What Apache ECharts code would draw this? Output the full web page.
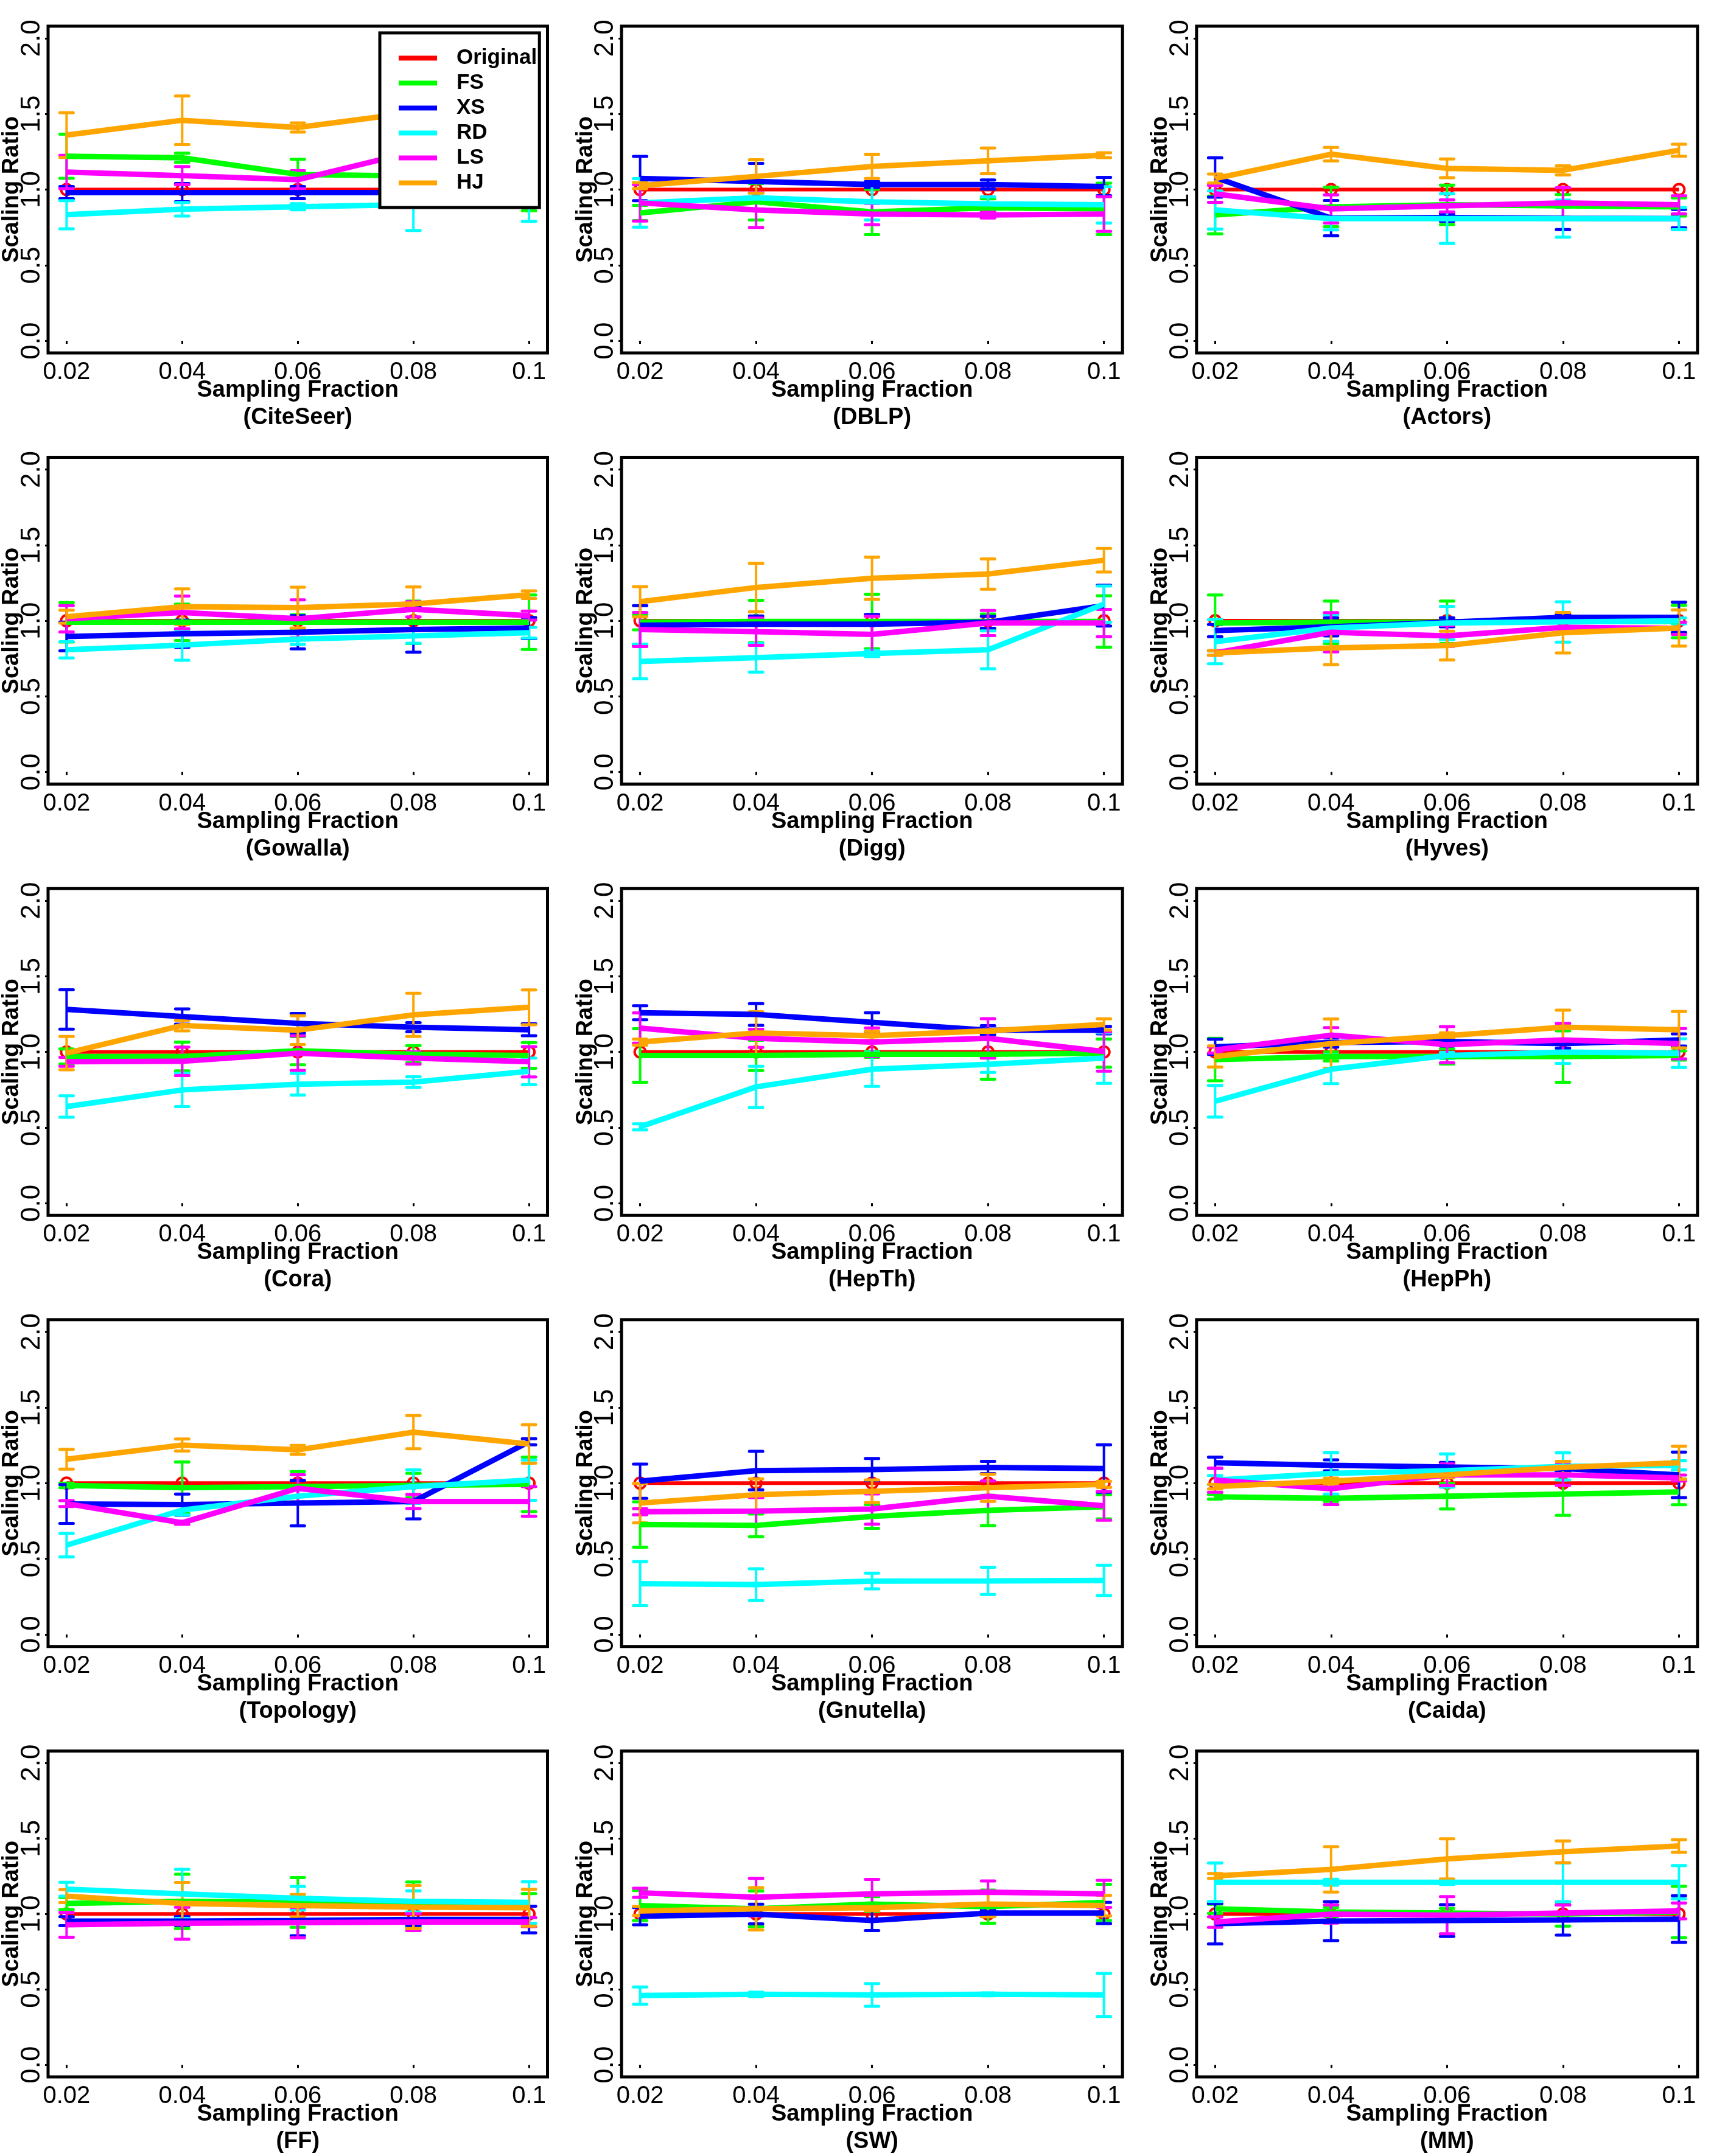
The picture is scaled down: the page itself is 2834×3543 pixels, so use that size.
<!DOCTYPE html>
<html>
<head>
<meta charset="utf-8">
<script src="https://cdn.jsdelivr.net/npm/echarts@6/dist/echarts.min.js"></script>
<style>
  html, body { margin: 0; padding: 0; background: #fff; }
  #chart { width: 2834px; height: 3543px; }
</style>
</head>
<body>
<div id="chart"></div>
<script>
// ---------------- DATA ----------------
const DATASETS = ['CiteSeer','DBLP','Actors','Gowalla','Digg','Hyves','Cora','HepTh','HepPh','Topology','Gnutella','Caida','FF','SW','MM'];
const FRACTIONS = [0.02, 0.04, 0.06, 0.08, 0.1];
const X_TICK_LABELS = ['0.02','0.04','0.06','0.08','0.1'];
const Y_TICKS = [0, 0.5, 1, 1.5, 2];
const Y_TICK_LABELS = ['0.0','0.5','1.0','1.5','2.0'];
const METHODS = ['Original','FS','XS','RD','LS','HJ'];
const ORIGINAL = [1, 1, 1, 1, 1];

// mean values per dataset (rows in DATASETS order)
const FS_MEAN = [
  [1.22,1.21,1.10,1.09,1.06],
  [0.845,0.919,0.852,0.879,0.872],
  [0.832,0.885,0.899,0.892,0.885],
  [0.99,0.99,0.99,0.99,0.99],
  [0.99,0.995,0.995,0.995,0.995],
  [0.985,0.99,0.99,0.995,0.995],
  [0.97,0.97,1.008,0.985,0.977],
  [0.977,0.977,0.985,0.985,0.992],
  [0.95,0.97,0.97,0.97,0.977],
  [0.985,0.97,0.977,0.985,0.992],
  [0.727,0.721,0.78,0.82,0.844],
  [0.91,0.9,0.914,0.928,0.942],
  [1.069,1.083,1.076,1.062,1.055],
  [1.055,1.034,1.065,1.048,1.076],
  [1.034,1.013,1.006,0.999,1.013]
];
const FS_ERR = [
  [0.146,0.03,0.1,0.05,0.2],
  [0.05,0.12,0.15,0.06,0.17],
  [0.125,0.13,0.13,0.075,0.06],
  [0.13,0.12,0.05,0.14,0.18],
  [0.05,0.14,0.18,0.05,0.17],
  [0.185,0.14,0.14,0.04,0.107],
  [0.05,0.095,0.093,0.057,0.085],
  [0.177,0.1,0.02,0.165,0.093],
  [0.14,0.03,0.05,0.17,0.03],
  [0.015,0.17,0.1,0.08,0.18],
  [0.15,0.075,0.078,0.1,0.08],
  [0.015,0.02,0.085,0.141,0.085],
  [0.04,0.18,0.165,0.15,0.08],
  [0.1,0.118,0.05,0.11,0.12],
  [0.03,0.03,0.03,0.08,0.17]
];
const XS_MEAN = [
  [0.98,0.98,0.98,0.98,0.98],
  [1.073,1.053,1.033,1.033,1.02],
  [1.08,0.811,0.815,0.81,0.808],
  [0.896,0.914,0.924,0.942,0.952],
  [0.97,0.977,0.977,0.99,1.10],
  [0.935,0.96,0.99,1.023,1.023],
  [1.281,1.234,1.189,1.164,1.147],
  [1.259,1.248,1.196,1.144,1.144],
  [1.034,1.062,1.069,1.055,1.079],
  [0.862,0.858,0.868,0.879,1.274],
  [1.013,1.083,1.09,1.104,1.097],
  [1.135,1.118,1.107,1.097,1.055],
  [0.952,0.952,0.956,0.963,0.963],
  [0.985,0.999,0.956,1.006,1.006],
  [0.935,0.952,0.956,0.96,0.966]
];
const XS_ERR = [
  [0.04,0.06,0.04,0.04,0.04],
  [0.146,0.12,0.02,0.03,0.06],
  [0.13,0.117,0.025,0.074,0.06],
  [0.095,0.09,0.11,0.15,0.07],
  [0.13,0.055,0.065,0.04,0.135],
  [0.04,0.06,0.03,0.02,0.1],
  [0.13,0.05,0.065,0.03,0.04],
  [0.046,0.072,0.063,0.03,0.025],
  [0.05,0.03,0.03,0.03,0.04],
  [0.128,0.07,0.15,0.115,0.02],
  [0.113,0.127,0.073,0.04,0.157],
  [0.037,0.036,0.03,0.02,0.15],
  [0.03,0.03,0.1,0.04,0.088],
  [0.057,0.065,0.066,0.02,0.07],
  [0.134,0.129,0.105,0.1,0.155]
];
const RD_MEAN = [
  [0.834,0.87,0.886,0.90,0.90],
  [0.912,0.946,0.919,0.905,0.899],
  [0.865,0.808,0.808,0.808,0.808],
  [0.808,0.839,0.879,0.90,0.921],
  [0.731,0.756,0.783,0.808,1.11],
  [0.862,0.952,0.985,0.992,0.999],
  [0.639,0.749,0.787,0.801,0.872],
  [0.505,0.769,0.886,0.918,0.96],
  [0.674,0.886,0.977,0.999,0.992],
  [0.59,0.822,0.914,0.977,1.02],
  [0.336,0.329,0.353,0.354,0.357],
  [1.02,1.065,1.083,1.111,1.118],
  [1.164,1.133,1.104,1.083,1.076],
  [0.459,0.467,0.463,0.467,0.463],
  [1.21,1.21,1.21,1.21,1.21]
];
const RD_ERR = [
  [0.093,0.045,0.02,0.17,0.11],
  [0.16,0.03,0.12,0.047,0.12],
  [0.126,0.074,0.164,0.123,0.073],
  [0.054,0.1,0.035,0.048,0.035],
  [0.115,0.095,0.02,0.125,0.12],
  [0.146,0.088,0.11,0.133,0.02],
  [0.071,0.11,0.072,0.035,0.088],
  [0.02,0.136,0.113,0.053,0.167],
  [0.105,0.095,0.02,0.075,0.095],
  [0.078,0.032,0.04,0.111,0.133],
  [0.145,0.105,0.052,0.09,0.1],
  [0.03,0.137,0.11,0.09,0.03],
  [0.046,0.162,0.078,0.07,0.138],
  [0.057,0.015,0.075,0.01,0.143],
  [0.128,0.02,0.015,0.128,0.11]
];
const LS_MEAN = [
  [1.116,1.092,1.065,1.25,0.98],
  [0.912,0.865,0.838,0.832,0.838],
  [0.972,0.872,0.892,0.912,0.899],
  [1.013,1.055,1.013,1.076,1.034],
  [0.942,0.928,0.91,0.985,0.985],
  [0.787,0.924,0.90,0.956,0.95],
  [0.935,0.938,0.992,0.96,0.935],
  [1.158,1.09,1.065,1.09,1.003],
  [1.013,1.111,1.048,1.079,1.055],
  [0.865,0.738,0.966,0.879,0.879],
  [0.811,0.815,0.829,0.914,0.85],
  [1.02,0.963,1.055,1.055,1.034],
  [0.928,0.938,0.942,0.946,0.946],
  [1.14,1.111,1.133,1.144,1.133],
  [0.946,0.999,0.992,1.006,1.02]
];
const LS_ERR = [
  [0.11,0.06,0.06,0.1,0.1],
  [0.12,0.115,0.07,0.02,0.115],
  [0.056,0.093,0.04,0.1,0.06],
  [0.087,0.108,0.125,0.05,0.03],
  [0.113,0.09,0.12,0.083,0.09],
  [0.015,0.13,0.07,0.035,0.04],
  [0.03,0.094,0.114,0.041,0.1],
  [0.1,0.06,0.094,0.13,0.13],
  [0.02,0.05,0.12,0.11,0.1],
  [0.02,0.01,0.09,0.047,0.098],
  [0.02,0.09,0.1,0.1,0.095],
  [0.08,0.105,0.072,0.07,0.02],
  [0.082,0.106,0.1,0.056,0.03],
  [0.03,0.125,0.096,0.075,0.09],
  [0.035,0.06,0.123,0.053,0.052]
];
const HJ_MEAN = [
  [1.36,1.458,1.41,1.51,1.54],
  [1.026,1.087,1.153,1.19,1.227],
  [1.073,1.234,1.14,1.127,1.26],
  [1.027,1.093,1.087,1.111,1.172],
  [1.126,1.22,1.281,1.309,1.40],
  [0.787,0.82,0.836,0.921,0.952],
  [0.992,1.175,1.144,1.245,1.295],
  [1.065,1.126,1.107,1.14,1.182],
  [0.97,1.055,1.107,1.164,1.147],
  [1.158,1.252,1.22,1.337,1.259],
  [0.868,0.924,0.946,0.97,0.992],
  [0.977,1.013,1.055,1.104,1.135],
  [1.118,1.069,1.055,1.045,1.041],
  [1.02,1.034,1.041,1.065,1.055],
  [1.252,1.295,1.365,1.412,1.45]
];
const HJ_ERR = [
  [0.148,0.16,0.03,0.05,0.05],
  [0.02,0.11,0.08,0.085,0.016],
  [0.03,0.045,0.062,0.03,0.04],
  [0.043,0.118,0.135,0.113,0.025],
  [0.1,0.16,0.14,0.1,0.078],
  [0.015,0.11,0.095,0.134,0.12],
  [0.11,0.035,0.095,0.143,0.115],
  [0.02,0.14,0.03,0.01,0.037],
  [0.07,0.163,0.02,0.112,0.12],
  [0.065,0.04,0.03,0.11,0.127],
  [0.13,0.104,0.075,0.09,0.02],
  [0.015,0.02,0.02,0.04,0.11],
  [0.043,0.14,0.074,0.143,0.122],
  [0.03,0.14,0.02,0.083,0.068],
  [0.016,0.15,0.133,0.072,0.042]
];

// ---------------- STYLE / LAYOUT ----------------
const COLORS = { Original:'#FF0000', FS:'#00FF00', XS:'#0000FF', RD:'#00FFFF', LS:'#FF00FF', HJ:'#FFA500' };
const SERIES_DATA = {
  FS: [FS_MEAN, FS_ERR], XS: [XS_MEAN, XS_ERR], RD: [RD_MEAN, RD_ERR],
  LS: [LS_MEAN, LS_ERR], HJ: [HJ_MEAN, HJ_ERR]
};
const FONT = '"Liberation Sans", Arial, Helvetica, sans-serif';
const CELL_W = 2834 / 3, CELL_H = 3543 / 5;
const BOX_L = 76.5, BOX_T = 43, BOX_W = 823, BOX_H = 537;

const grids = [], xAxes = [], yAxes = [], series = [];

function errRender(params, api) {
  const x = api.value(0), lo = api.value(1), hi = api.value(2);
  const p1 = api.coord([x, lo]), p2 = api.coord([x, hi]);
  const c = api.visual('color');
  const w = 11;
  return {
    type: 'group',
    children: [
      { type: 'line', shape: { x1: p1[0], y1: p1[1], x2: p2[0], y2: p2[1] }, style: { stroke: c, lineWidth: 4 } },
      { type: 'line', shape: { x1: p1[0] - w, y1: p1[1], x2: p1[0] + w, y2: p1[1] }, style: { stroke: c, lineWidth: 5, lineCap: 'round' } },
      { type: 'line', shape: { x1: p2[0] - w, y1: p2[1], x2: p2[0] + w, y2: p2[1] }, style: { stroke: c, lineWidth: 5, lineCap: 'round' } }
    ]
  };
}

DATASETS.forEach((name, i) => {
  const r = Math.floor(i / 3), c = i % 3;
  grids.push({
    left: BOX_L + c * CELL_W, top: BOX_T + r * CELL_H, width: BOX_W, height: BOX_H,
    show: true, borderColor: '#000', borderWidth: 5, backgroundColor: 'transparent'
  });
  xAxes.push({
    type: 'value', gridIndex: i, min: 0.0168, max: 0.1032,
    axisLine: { show: false }, splitLine: { show: false },
    axisTick: { show: true, length: 5, lineStyle: { color: '#000', width: 3 }, customValues: FRACTIONS },
    axisLabel: {
      customValues: FRACTIONS, fontSize: 40, color: '#000', fontFamily: FONT, margin: 12,
      formatter: (v) => X_TICK_LABELS[FRACTIONS.findIndex(f => Math.abs(f - v) < 1e-9)]
    },
    name: 'Sampling Fraction\n(' + name + ')', nameLocation: 'middle', nameGap: 39,
    nameMoveOverlap: false,
    nameTextStyle: { fontSize: 38, fontWeight: 'bold', color: '#000', fontFamily: FONT, lineHeight: 45 }
  });
  yAxes.push({
    type: 'value', gridIndex: i, min: -0.08, max: 2.08,
    axisLine: { show: false }, splitLine: { show: false },
    axisTick: { show: true, length: 5, lineStyle: { color: '#000', width: 3 }, customValues: Y_TICKS },
    axisLabel: {
      customValues: Y_TICKS, fontSize: 44, color: '#000', fontFamily: FONT, margin: 4, rotate: 90,
      formatter: (v) => Y_TICK_LABELS[Y_TICKS.findIndex(t => Math.abs(t - v) < 1e-9)]
    },
    name: 'Scaling Ratio', nameLocation: 'middle', nameGap: 40,
    nameMoveOverlap: false,
    nameTextStyle: { fontSize: 38, fontWeight: 'bold', color: '#000', fontFamily: FONT }
  });

  // Original (drawn underneath the other methods, hollow circles)
  series.push({
    name: 'Original', type: 'line', xAxisIndex: i, yAxisIndex: i, z: 1,
    data: FRACTIONS.map((f, k) => [f, ORIGINAL[k]]),
    symbol: 'circle', symbolSize: 18, showSymbol: true,
    lineStyle: { color: COLORS.Original, width: 6 },
    itemStyle: { color: 'rgba(0,0,0,0)', borderColor: COLORS.Original, borderWidth: 4 },
    animation: false, silent: true
  });
  ['FS','XS','RD','LS','HJ'].forEach((m) => {
    const mean = SERIES_DATA[m][0][i], err = SERIES_DATA[m][1][i];
    series.push({
      name: m, type: 'line', xAxisIndex: i, yAxisIndex: i,
      data: FRACTIONS.map((f, k) => [f, mean[k]]),
      symbol: 'none', lineStyle: { color: COLORS[m], width: 9 },
      itemStyle: { color: COLORS[m] }, animation: false, silent: true
    });
    series.push({
      name: m + ' error', type: 'custom', xAxisIndex: i, yAxisIndex: i,
      renderItem: errRender, itemStyle: { color: COLORS[m] },
      encode: { x: 0, y: [1, 2] },
      data: FRACTIONS.map((f, k) => [f, mean[k] - err[k], mean[k] + err[k]]),
      animation: false, silent: true
    });
  });
});

const chart = echarts.init(document.getElementById('chart'), null, { renderer: 'canvas' });
chart.setOption({
  backgroundColor: '#fff',
  animation: false,
  textStyle: { fontFamily: FONT },
  grid: grids, xAxis: xAxes, yAxis: yAxes, series: series,
  legend: {
    data: METHODS.map(n => ({ name: n, icon: 'rect', itemStyle: { color: COLORS[n], borderWidth: 0 } })),
    orient: 'vertical', left: 624, top: 54,
    itemWidth: 63, itemHeight: 8, itemGap: 0,
    padding: [21, 4, 20, 31],
    backgroundColor: '#fff', borderColor: '#000', borderWidth: 5,
    selectedMode: false,
    textStyle: { fontSize: 35, fontWeight: 'bold', color: '#000', fontFamily: FONT, lineHeight: 41, padding: [0, 0, 0, 27] }
  }
});
</script>
</body>
</html>
